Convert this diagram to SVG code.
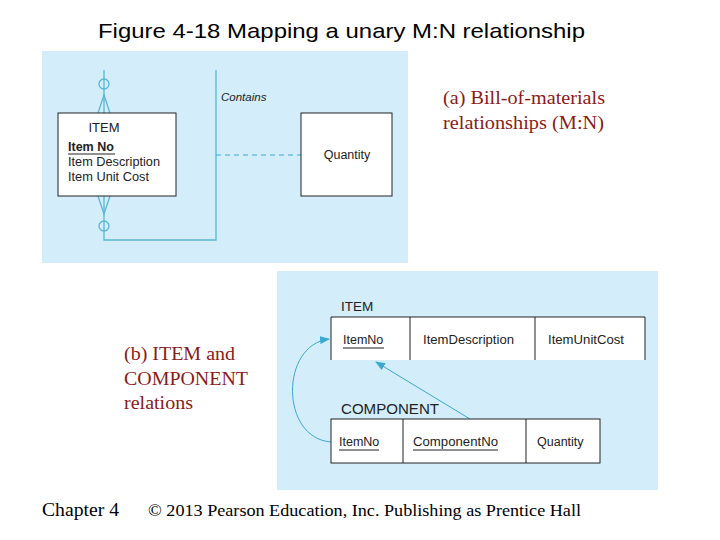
<svg xmlns="http://www.w3.org/2000/svg" width="720" height="540" viewBox="0 0 720 540">
<style>
.s{font-family:"Liberation Sans",Arial,sans-serif;fill:#222}
.t{font-family:"Liberation Serif","Times New Roman",serif}
.ln{stroke:#5bb5d5;fill:none;stroke-width:1.3}
.bx{fill:#fff;stroke:#222;stroke-width:1}
</style>
<defs><marker id="ah" markerWidth="10" markerHeight="8" refX="9" refY="4" orient="auto" markerUnits="userSpaceOnUse"><path d="M0,0L10,4L0,8z" fill="#3aa8d0"/></marker></defs>
<rect width="720" height="540" fill="#fff"/>
<text x="98" y="38" class="s" font-size="21" style="fill:#000" textLength="487" lengthAdjust="spacingAndGlyphs">Figure 4-18 Mapping a unary M:N relationship</text>
<rect x="42" y="51" width="366" height="212" fill="#d3edfa"/>
<rect x="277" y="271" width="381" height="219" fill="#d3edfa"/>
<g id="connectors">
<path class="ln" d="M104,70V240H216V70"/>
<path d="M216,155H301" stroke="#3aa8d0" stroke-dasharray="5,4" fill="none"/>
<circle class="ln" cx="104" cy="84" r="5"/>
<path class="ln" d="M98,113L104,95L110,113"/>
<circle class="ln" cx="104" cy="226" r="5"/>
<path class="ln" d="M98,196L104,214L110,196"/>
<path d="M331,442C280,438 280,345 329,339" stroke="#3aa8d0" fill="none" marker-end="url(#ah)"/>
<path d="M470,419L376,362" stroke="#3aa8d0" fill="none" marker-end="url(#ah)"/>
</g>
<g id="item-entity">
<rect class="bx" x="58" y="113" width="118" height="83"/>
<text x="104" y="132" text-anchor="middle" class="s" font-size="13">ITEM</text>
<text x="68" y="151" class="s" font-size="12.5" font-weight="bold">Item No</text>
<line x1="68" y1="154" x2="115" y2="154" stroke="#222"/>
<text x="68" y="166" class="s" font-size="12.5" textLength="92" lengthAdjust="spacingAndGlyphs">Item Description</text>
<text x="68" y="181" class="s" font-size="12.5" textLength="81" lengthAdjust="spacingAndGlyphs">Item Unit Cost</text>
</g>
<g id="contains"><text x="221" y="101" class="s" font-size="11.5" font-style="italic">Contains</text></g>
<g id="quantity">
<rect class="bx" x="301" y="113" width="91" height="83"/>
<text x="347" y="159" text-anchor="middle" class="s" font-size="12.5">Quantity</text>
</g>
<g id="item-relation">
<text x="341" y="311" class="s" font-size="13.5">ITEM</text>
<rect x="331" y="317" width="314" height="43" fill="#fff"/>
<path d="M331,360V317H645V360M410,317V360M535,317V360" stroke="#222" fill="none"/>
<text x="343" y="344" class="s" font-size="12.5">ItemNo</text>
<line x1="343" y1="348" x2="384" y2="348" stroke="#222"/>
<text x="423" y="344" class="s" font-size="12.5" textLength="91" lengthAdjust="spacingAndGlyphs">ItemDescription</text>
<text x="548" y="344" class="s" font-size="12.5" textLength="76" lengthAdjust="spacingAndGlyphs">ItemUnitCost</text>
</g>
<g id="component-relation">
<text x="341" y="414" class="s" font-size="14" textLength="98" lengthAdjust="spacingAndGlyphs">COMPONENT</text>
<rect x="331" y="419" width="269" height="44" fill="#fff" stroke="#222"/>
<path d="M403,419V463M526,419V463" stroke="#222"/>
<text x="339" y="446" class="s" font-size="12.5">ItemNo</text>
<line x1="339" y1="450" x2="379" y2="450" stroke="#222"/>
<text x="413" y="446" class="s" font-size="12.5" textLength="85" lengthAdjust="spacingAndGlyphs">ComponentNo</text>
<line x1="413" y1="450" x2="498" y2="450" stroke="#222"/>
<text x="537" y="446" class="s" font-size="12.5">Quantity</text>
</g>
<text x="443" y="104" class="t" font-size="18" fill="#8b1a1a" textLength="162" lengthAdjust="spacingAndGlyphs">(a) Bill-of-materials</text>
<text x="443" y="129" class="t" font-size="18" fill="#8b1a1a" textLength="161" lengthAdjust="spacingAndGlyphs">relationships (M:N)</text>
<text x="124" y="360" class="t" font-size="18" fill="#8b1a1a" textLength="111" lengthAdjust="spacingAndGlyphs">(b) ITEM and</text>
<text x="124" y="385" class="t" font-size="18" fill="#8b1a1a" textLength="124" lengthAdjust="spacingAndGlyphs">COMPONENT</text>
<text x="124" y="409" class="t" font-size="18" fill="#8b1a1a" textLength="69" lengthAdjust="spacingAndGlyphs">relations</text>
<text x="42" y="516" class="t" font-size="18" textLength="77" lengthAdjust="spacingAndGlyphs">Chapter 4</text>
<text x="148" y="516" class="t" font-size="17" textLength="433" lengthAdjust="spacingAndGlyphs">© 2013 Pearson Education, Inc.  Publishing as Prentice Hall</text>
</svg>
